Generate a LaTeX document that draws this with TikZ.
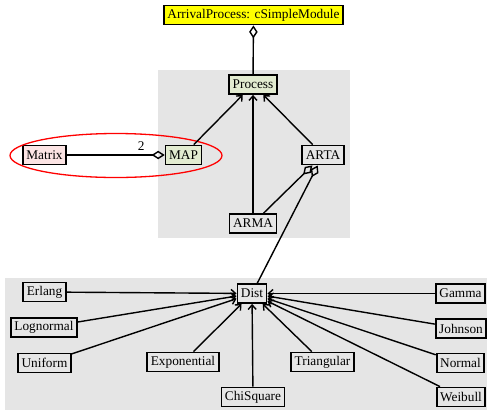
\documentclass[tikz,border=0pt]{standalone}
\usepackage{fontspec}
\setmainfont{Liberation Serif}
\usetikzlibrary{arrows.meta}
\definecolor{bggray}{HTML}{E5E5E5}
\definecolor{boxgray}{HTML}{E6E6E6}
\definecolor{procgreen}{HTML}{E2EBD0}
\definecolor{matpink}{HTML}{FCE4E4}
\definecolor{apyellow}{HTML}{FFFF00}
\tikzset{
  cls/.style={draw=black, line width=1.8pt, fill=boxgray, inner xsep=3.5pt, inner ysep=2pt,
    minimum height=19pt, font=\fontsize{13.3}{15}\selectfont},
  inh/.style={line width=1.4pt, -{Straight Barb[length=4.5pt,width=8pt,line width=1.4pt]}},
  agg/.style={line width=1.4pt, -{Diamond[open,length=13pt,width=8.5pt,line width=1.4pt]}},
  region/.style={fill=bggray, draw=none}
}
\begin{document}
\begin{tikzpicture}[x=1pt,y=-1pt]
\useasboundingbox (0,0) rectangle (487,413);
\fill[white] (0,0) rectangle (487,413);
\fill[region] (158,70) rectangle (350,238);
\fill[region] (5,278) rectangle (487,410);

\node[cls, fill=apyellow] (ap) at (253.5,15) {ArrivalProcess: cSimpleModule};
\node[cls, fill=procgreen] (proc) at (253,84.5) {Process};
\node[cls, fill=procgreen] (map) at (183.5,155) {MAP};
\node[cls, fill=matpink] (matrix) at (44.5,155) {Matrix};
\node[cls] (arta) at (323,155) {ARTA};
\node[cls] (arma) at (253,223.5) {ARMA};

\node[cls] (dist) at (252,293.5) {Dist};
\node[cls] (erlang) at (44.5,292) {Erlang};
\node[cls] (lognormal) at (44,327.5) {Lognormal};
\node[cls] (uniform) at (44.5,363) {Uniform};
\node[cls] (expo) at (183,362) {Exponential};
\node[cls] (chi) at (253,397) {ChiSquare};
\node[cls] (tri) at (322.5,362) {Triangular};
\node[cls] (gamma) at (460.5,293.5) {Gamma};
\node[cls] (johnson) at (461,328.5) {Johnson};
\node[cls] (normal) at (460.5,363) {Normal};
\node[cls] (weibull) at (461,397) {Weibull};

\draw[red, line width=1.3pt] (116,155.5) ellipse [x radius=106, y radius=22];

\draw[agg] (proc) -- (ap);
\draw[inh] (map) -- (proc);
\draw[inh] (arma) -- (proc);
\draw[inh] (arta) -- (proc);
\draw[agg] (matrix) -- node[above, pos=0.76, font=\fontsize{13.3}{15}\selectfont] {2} (map);
\draw[agg] (arma) -- (arta);
\draw[agg] (dist) -- (arta);

\foreach \n in {erlang,lognormal,uniform,expo,chi,tri,gamma,johnson,normal,weibull}
  \draw[inh] (\n) -- (dist);
\end{tikzpicture}
\end{document}
